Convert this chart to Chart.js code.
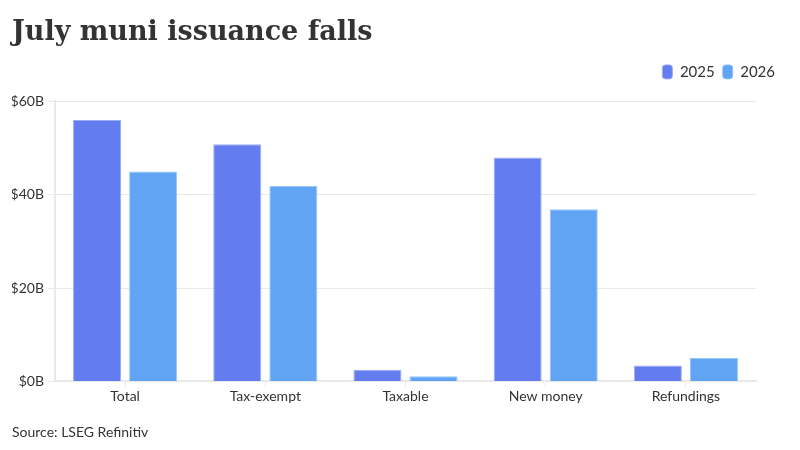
<!DOCTYPE html>
<html>
<head>
<meta charset="utf-8">
<script src="https://cdn.jsdelivr.net/npm/chart.js@4"></script>
<style>
  html, body { margin: 0; padding: 0; background: #fff; }
  #wrap { width: 800px; height: 450px; position: relative; }
</style>
</head>
<body>
<div id="wrap"><canvas id="c" width="800" height="450"></canvas></div>
<script>
const categories = ['Total', 'Tax-exempt', 'Taxable', 'New money', 'Refundings'];
const values2025 = [56.0, 50.8, 2.5, 48.0, 3.4];
const values2026 = [45.0, 41.9, 1.1, 36.9, 5.0];
const seriesLabels = ['2025', '2026'];
const yTickValues = [0, 20, 40, 60];
const titleText = 'July muni issuance falls';
const sourceText = 'Source: LSEG Refinitiv';

const textColor = '#333333';
const gridColor = '#e9e9e9';

const legendSpacer = {
  id: 'legendSpacer',
  beforeLayout(chart) {
    const l = chart.legend;
    if (l && !l._spacerPatched) {
      const orig = l.fit;
      l.fit = function () { orig.call(this); this.height += 12; };
      l._spacerPatched = true;
    }
  }
};

new Chart(document.getElementById('c'), {
  type: 'bar',
  data: {
    labels: categories,
    datasets: [
      { label: seriesLabels[0], data: values2025, backgroundColor: '#637cf0', borderColor: '#9eacf6', borderWidth: 1 },
      { label: seriesLabels[1], data: values2026, backgroundColor: '#61a4f3', borderColor: '#98c5f8', borderWidth: 1 }
    ]
  },
  plugins: [legendSpacer],
  options: {
    responsive: false,
    animation: false,
    devicePixelRatio: 1,
    categoryPercentage: 0.8,
    barPercentage: 0.857,
    layout: { padding: { left: 12, right: 17, top: 6, bottom: 9 } },
    plugins: {
      title: {
        display: true,
        text: titleText,
        align: 'start',
        color: '#333333',
        font: { family: 'DejaVu Serif', size: 27, weight: 'bold' },
        padding: { top: 11, bottom: 7 },
        fullSize: true
      },
      subtitle: {
        display: true,
        position: 'bottom',
        text: sourceText,
        align: 'start',
        color: textColor,
        font: { family: 'Lato', size: 14 },
        padding: { top: 17, bottom: 0 }
      },
      legend: {
        display: true,
        position: 'top',
        align: 'end',
        labels: {
          color: textColor,
          font: { family: 'Lato', size: 15 },
          boxWidth: 10,
          boxHeight: 14,
          useBorderRadius: true,
          borderRadius: 3,
          padding: 8
        }
      },
      tooltip: { enabled: false }
    },
    scales: {
      x: {
        grid: { display: true, drawOnChartArea: false, drawTicks: true, tickLength: 5, color: gridColor, offset: false },
        border: { display: true, color: gridColor, width: 2 },
        ticks: { color: textColor, font: { family: 'Lato', size: 14 }, padding: 2 }
      },
      y: {
        min: 0,
        max: 60,
        afterBuildTicks: (scale) => { scale.ticks = yTickValues.map(v => ({ value: v })); },
        afterFit: (scale) => { scale.width = 43; },
        grid: { color: gridColor, tickLength: 7, lineWidth: 1 },
        border: { display: true, color: gridColor, width: 2 },
        ticks: {
          color: textColor,
          font: { family: 'Lato', size: 14 },
          padding: 4,
          callback: (v) => '$' + v + 'B'
        }
      },
      yR: {
        position: 'right',
        display: true,
        afterFit: (scale) => { scale.width = 27; },
        grid: { display: false },
        border: { display: false },
        ticks: { display: false }
      }
    }
  }
});
</script>
</body>
</html>
